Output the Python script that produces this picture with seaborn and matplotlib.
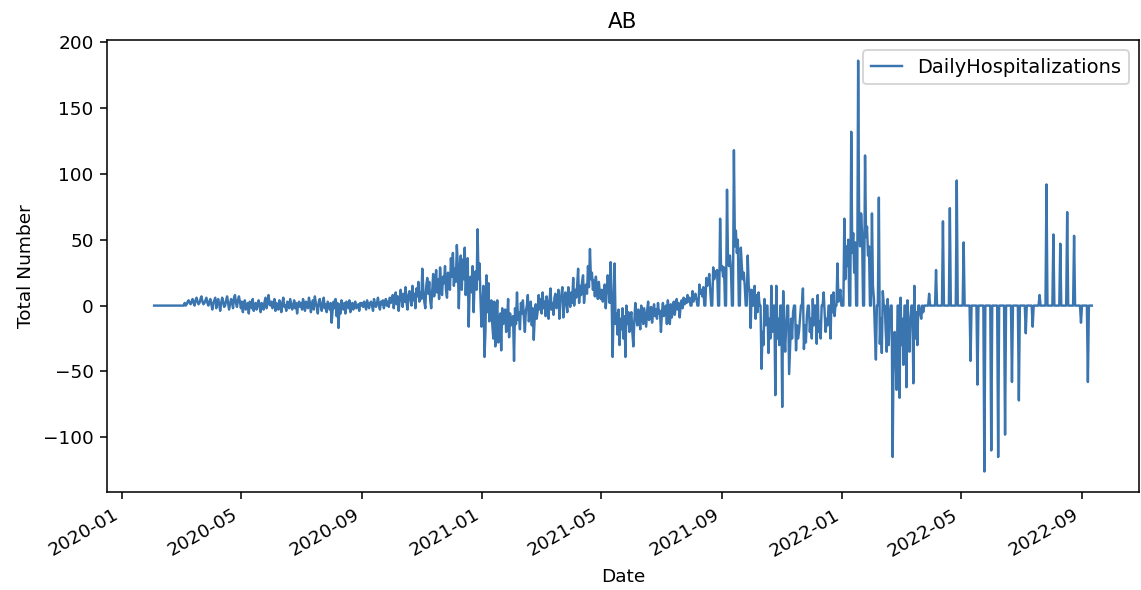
import pandas as pd
import matplotlib
matplotlib.use("Agg")
import matplotlib.pyplot as plt
import seaborn as sns


# ==========================================
# DATA
# ==========================================

province = "AB"

# daily values, one list per month (first list starts 2020-02-03)
feb_2020 = [0, 0, 0, 0, 0, 0, 0, 0, 0, 0, 0, 0, 0, 0, 0, 0, 0, 0, 0, 0,
            0, 0, 0, 0, 0, 0, 0]
mar_2020 = [0, 0, 0, 0, 2, 0, 1, 3, 4, 2, 1, 3, 5, 2, 0, 4, 6, 3, 1, 2,
            5, 7, 3, 1, 2, 4, 6, 2, 0, 3, 5]
apr_2020 = [1, -3, 2, 4, 6, -2, 3, 5, 1, -4, 2, 6, 3, -1, 0, 4, 7, 2, -3, 1,
            5, 3, -2, 6, 8, 2, -1, 4, 7, 3]
may_2020 = [-2, 3, -5, 1, 4, -3, 0, 2, -6, 3, 1, -2, 5, -4, 0, 2, -3, 1, 4, -1,
            -5, 2, 0, -3, 3, 6, -2, 1, 8, 2, 0]
jun_2020 = [3, -2, 1, 5, -4, 2, 0, -3, 4, 1, -5, 2, 6, -1, 0, -4, 3, 2, -2, 5,
            1, -3, 0, 4, -2, 2, -6, 1, 3, -1]
jul_2020 = [2, -3, 5, 1, -4, 3, 0, -2, 6, 2, -5, 1, 4, -3, 7, 2, -1, -6, 3, 5,
            0, -4, 2, 6, -2, 1, -5, 3, 0, -3, 2]
aug_2020 = [-13, -4, 3, -2, 5, -8, 2, -17, 1, -6, 4, 0, -3, 2, -6, 3, 1, -2, 4, -5,
            0, 2, -3, 1, 3, -2, 0, 1, -4, 2, 0]
sep_2020 = [2, -1, 3, 0, -3, 4, 1, -2, 2, 3, 0, -4, 5, 1, -1, 2, 6, 0, -3, 3,
            1, 4, -2, 2, 5, 0, 3, -1, 6, 2]
oct_2020 = [3, 8, -2, 5, 10, 1, 7, -4, 4, 12, 6, -1, 9, 3, 14, 2, -3, 8, 11, 5,
            0, 15, 4, 9, -2, 13, 7, 18, 3, 10, 5]
nov_2020 = [28, 12, 3, -2, 15, 21, 9, 18, 4, -2, 11, 24, 7, 16, 27, 10, 20, 5, 29, 14,
            8, 22, 17, 30, 12, 6, 25, 19, 12, 36]
dec_2020 = [22, 40, 15, 28, 18, 46, 30, -2, 25, 38, 12, 35, 20, 44, 8, 27, 36, -16, 14, 22,
            10, 30, -5, 18, 26, 12, 58, 20, 32, 5, -16]
jan_2021 = [2, 15, -39, -20, 23, -5, 17, -12, -8, 4, -15, -25, 3, -31, -10, 4, -28, -18, -6, -34,
            -2, -14, -8, -3, -20, -12, 5, -24, -6, -15, -10]
feb_2021 = [-8, -42, -2, -14, 10, -11, -5, -18, 2, -6, 4, -9, -20, -4, 0, 8, -12, -6, 3, -15,
            -2, -26, -8, 1, -10, -4, 8, -3]
mar_2021 = [5, -6, 10, -2, 3, -8, 7, 0, -10, 4, 13, -3, 2, -7, 6, 9, -2, 1, 12, -10,
            4, 8, 14, -9, 3, 10, 2, -5, 14, 6, -1]
apr_2021 = [10, 2, 21, 0, 12, 6, 15, 28, 2, 15, 8, 18, 23, 2, 11, 16, 9, 30, 14, 43,
            20, 25, 12, 19, 7, 22, 14, 5, 18, 10]
may_2021 = [5, 12, 3, 8, 16, -2, 10, 23, 14, 2, 33, 6, -39, -1, 32, -14, -6, -22, -3, -30,
            -10, -18, -2, -25, -8, -39, 0, -14, -5, -20, -9]
jun_2021 = [-5, -20, -31, -12, 2, -8, -15, -3, -10, -18, 0, -6, -14, -2, -9, -16, -4, 3, -11, -7,
            -1, -13, -5, 1, -8, -3, -10, 2, -6, -4]
jul_2021 = [-20, -5, 2, -8, -3, 0, -14, 4, -6, -14, 1, -9, -4, 3, -7, -1, 5, -3, 2, -9,
            0, 4, -2, 6, 1]

monthly_starts = ["2020-02-03", "2020-03-01", "2020-04-01", "2020-05-01", "2020-06-01",
                  "2020-07-01", "2020-08-01", "2020-09-01", "2020-10-01", "2020-11-01",
                  "2020-12-01", "2021-01-01", "2021-02-01", "2021-03-01", "2021-04-01",
                  "2021-05-01", "2021-06-01", "2021-07-01"]
monthly_values = [feb_2020, mar_2020, apr_2020, may_2020, jun_2020, jul_2020, aug_2020,
                  sep_2020, oct_2020, nov_2020, dec_2020, jan_2021, feb_2021, mar_2021,
                  apr_2021, may_2021, jun_2021, jul_2021]

# weekday-only reporting, one row per week (Mon..Sun), first week starts 2021-07-26
weeks_start = "2021-07-26"
weeks = [
    [5, 2, 8, 3, 6, 0, 0],
    [11, 3, 6, 9, 5, 0, 0],
    [16, 9, 12, 7, 14, 0, 0],
    [21, 15, 18, 24, 12, 0, 0],
    [29, 20, 26, 23, 27, 0, 0],
    [66, 27, 30, 22, 29, 0, 0],
    [88, 34, 30, 38, 28, 0, 0],
    [118, 45, 57, 40, 50, 0, 0],
    [44, 30, 20, 25, 15, 0, 0],
    [38, 15, 10, -17, 12, 0, 0],
    [15, -10, 8, -5, 10, 0, 0],
    [-48, -20, -30, 5, -15, 0, 0],
    [-36, -10, -25, 15, -20, 0, 0],
    [-68, 15, -25, -10, -30, 0, 0],
    [-77, 11, -20, -35, -15, 0, 0],
    [-52, -30, -10, -25, -5, 0, 0],
    [-34, -15, -25, -20, -10, 0, 0],
    [13, -33, -15, -28, -8, 0, 0],
    [-20, -10, -25, 5, -15, 0, 0],
    [-29, 8, -20, -12, -25, 0, 0],
    [10, -5, -20, -10, -15, 0, 0],
    [-25, 8, -5, 10, -8, 0, 0],
    [32, 3, 8, 12, 0, 0, 0],
    [66, 20, 45, 30, 50, 0, 0],
    [132, 40, 55, 25, 48, 0, 0],
    [186, 62, 45, 70, 55, 0, 0],
    [114, 52, 60, 38, 45, 0, 0],
    [70, 15, 5, -20, -41, 0, 0],
    [82, -29, -10, -36, 11, 0, 0],
    [-20, -35, 5, -30, -10, 0, 0],
    [-115, -30, -20, -40, -64, 0, 0],
    [-70, 6, -30, -10, -45, 0, 0],
    [-62, 4, -20, -35, -10, 0, 0],
    [-59, 15, -25, -5, -30, 0, 0],
    [-6, -10, 0, -5, 0, 0, 0],
    # weekly reporting (Wednesdays) from 2022-03-30
    [0, 0, 9, 0, 0, 0, 0],
    [0, 0, 27, 0, 0, 0, 0],
    [0, 0, 64, 0, 0, 0, 0],
    [0, 0, 74, 0, 0, 0, 0],
    [0, 0, 95, 0, 0, 0, 0],
    [0, 0, 48, 0, 0, 0, 0],
    [0, 0, -42, 0, 0, 0, 0],
    [0, 0, -60, 0, 0, 0, 0],
    [0, 0, -126, 0, 0, 0, 0],
    [0, 0, -110, 0, 0, 0, 0],
    [0, 0, -115, 0, 0, 0, 0],
    [0, 0, -98, 0, 0, 0, 0],
    [0, 0, -58, 0, 0, 0, 0],
    [0, 0, -72, 0, 0, 0, 0],
    [0, 0, -21, 0, 0, 0, 0],
    [0, 0, -16, 0, 0, 0, 0],
    [0, 0, 8, 0, 0, 0, 0],
    [0, 0, 92, 0, 0, 0, 0],
    [0, 0, 54, 0, 0, 0, 0],
    [0, 0, 47, 0, 0, 0, 0],
    [0, 0, 71, 0, 0, 0, 0],
    [0, 0, 53, 0, 0, 0, 0],
    [0, 0, -13, 0, 0, 0, 0],
    [0, 0, -58, 0, 0, 0, 0],
]


# ==========================================
# BUILD DATAFRAME
# ==========================================

parts = []

for start, values in zip(monthly_starts, monthly_values):
    parts.append(pd.DataFrame({
        "Date": pd.date_range(start, periods=len(values), freq="D"),
        "DailyHospitalizations": values
    }))

week_values = [v for row in weeks for v in row]
parts.append(pd.DataFrame({
    "Date": pd.date_range(weeks_start, periods=len(week_values), freq="D"),
    "DailyHospitalizations": week_values
}))

df = pd.concat(parts, ignore_index=True)
print(df.shape, df["Date"].min(), df["Date"].max())


# ==========================================
# PLOT
# ==========================================

DPI = 140

fig, ax = plt.subplots(figsize=(1141 / DPI, 590 / DPI), dpi=DPI)

sns.lineplot(
    data=df,
    x="Date",
    y="DailyHospitalizations",
    color="#3a75b0",
    linewidth=1.25,
    label="DailyHospitalizations",
    ax=ax
)

ax.set_title(province, fontsize=11)
ax.set_xlabel("Date", fontsize=9.5)
ax.set_ylabel("Total Number", fontsize=9.5)
ax.tick_params(labelsize=9.5)
ax.legend(loc="upper right", fontsize=10, handlelength=1.6)

fig.autofmt_xdate()

plt.subplots_adjust(left=0.094, right=0.998, top=0.932, bottom=0.166)

plt.savefig("out.png", dpi=DPI)
plt.close()
